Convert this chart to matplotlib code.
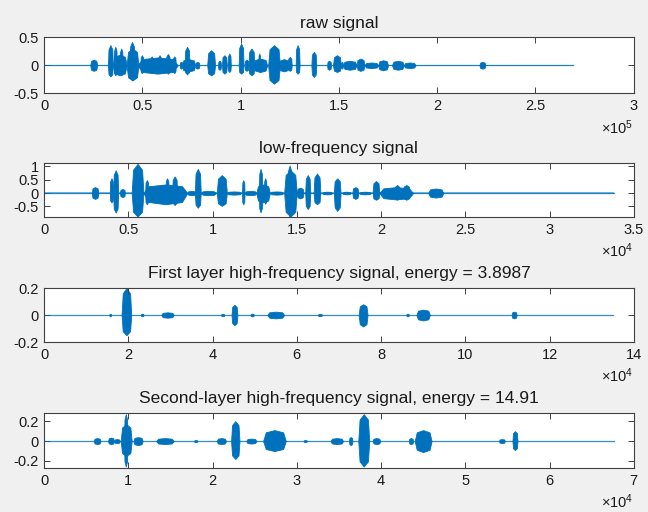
import matplotlib
matplotlib.use("Agg")
import matplotlib.pyplot as plt
from matplotlib.ticker import FormatStrFormatter

plt.rcParams['font.family'] = ['Liberation Sans', 'DejaVu Sans']
plt.rcParams['mathtext.default'] = 'regular'

# bursts: (start, end, upper amplitude, lower amplitude)
# x in units of the axis multiplier (x10^5 for raw, x10^4 for the others)
raw_bursts = [
    (0.235, 0.27, 0.10, 0.10), (0.325, 0.35, 0.36, 0.20), (0.35, 0.42, 0.19, 0.18),
    (0.355, 0.37, 0.33, 0.18), (0.385, 0.40, 0.30, 0.18), (0.42, 0.48, 0.30, 0.27),
    (0.435, 0.46, 0.42, 0.27), (0.475, 0.68, 0.14, 0.15), (0.49, 0.505, 0.18, 0.14),
    (0.54, 0.555, 0.16, 0.14), (0.58, 0.595, 0.18, 0.14), (0.62, 0.64, 0.20, 0.15),
    (0.655, 0.67, 0.16, 0.14), (0.69, 0.705, 0.06, 0.06), (0.70, 0.77, 0.11, 0.11),
    (0.715, 0.74, 0.33, 0.16), (0.77, 0.79, 0.06, 0.06), (0.83, 0.87, 0.27, 0.18),
    (0.885, 0.90, 0.08, 0.08), (0.905, 0.93, 0.18, 0.15), (0.935, 0.95, 0.21, 0.12),
    (0.99, 1.015, 0.39, 0.15), (1.02, 1.04, 0.10, 0.10), (1.04, 1.07, 0.30, 0.18),
    (1.065, 1.135, 0.12, 0.12), (1.09, 1.10, 0.21, 0.12), (1.14, 1.20, 0.36, 0.33),
    (1.195, 1.245, 0.11, 0.11), (1.24, 1.26, 0.15, 0.10), (1.28, 1.30, 0.36, 0.15),
    (1.36, 1.385, 0.24, 0.21), (1.44, 1.46, 0.08, 0.08), (1.47, 1.51, 0.18, 0.12),
    (1.51, 1.52, 0.06, 0.06), (1.52, 1.59, 0.08, 0.08), (1.59, 1.63, 0.12, 0.10),
    (1.63, 1.70, 0.05, 0.05), (1.70, 1.75, 0.09, 0.09), (1.77, 1.83, 0.08, 0.08),
    (1.83, 1.89, 0.05, 0.05), (2.215, 2.245, 0.06, 0.06),
]
raw_end = 2.69

low_bursts = [
    (0.283, 0.322, 0.22, 0.22), (0.39, 0.41, 0.55, 0.35), (0.41, 0.44, 0.85, 0.73),
    (0.45, 0.48, 0.15, 0.15), (0.52, 0.59, 1.09, 0.88), (0.59, 0.85, 0.32, 0.42),
    (0.60, 0.62, 0.48, 0.42), (0.72, 0.74, 0.55, 0.42), (0.76, 0.79, 0.62, 0.45),
    (0.85, 0.90, 0.08, 0.08), (0.895, 0.93, 0.90, 0.55), (0.93, 1.02, 0.08, 0.08),
    (1.025, 1.085, 0.67, 0.48), (1.085, 1.17, 0.06, 0.06), (1.175, 1.19, 0.48, 0.42),
    (1.19, 1.26, 0.08, 0.08), (1.26, 1.34, 0.32, 0.35), (1.275, 1.295, 0.90, 0.72),
    (1.305, 1.32, 0.55, 0.40), (1.34, 1.42, 0.06, 0.06), (1.425, 1.50, 0.85, 0.88),
    (1.445, 1.47, 1.03, 0.90), (1.50, 1.54, 0.20, 0.20), (1.55, 1.58, 0.67, 0.60),
    (1.60, 1.64, 0.73, 0.42), (1.65, 1.71, 0.05, 0.05), (1.72, 1.76, 0.55, 0.67),
    (1.77, 1.82, 0.05, 0.05), (1.83, 1.865, 0.22, 0.22), (1.87, 1.94, 0.05, 0.05),
    (1.95, 1.99, 0.45, 0.25), (1.99, 2.19, 0.22, 0.24), (2.08, 2.11, 0.30, 0.25),
    (2.13, 2.17, 0.30, 0.25), (2.28, 2.37, 0.17, 0.17),
]
low_end = 3.38

hi1_bursts = [
    (1.55, 1.59, 0.01, 0.01), (1.84, 2.07, 0.20, 0.15), (2.30, 2.36, 0.01, 0.01),
    (2.78, 3.08, 0.02, 0.02), (4.20, 4.28, 0.008, 0.008), (4.45, 4.59, 0.075, 0.075),
    (4.90, 4.98, 0.01, 0.01), (5.30, 5.70, 0.025, 0.025), (6.50, 6.60, 0.008, 0.008),
    (7.47, 7.68, 0.08, 0.085), (8.60, 8.66, 0.01, 0.01), (8.84, 9.16, 0.04, 0.04),
    (11.10, 11.22, 0.025, 0.025),
]
hi1_end = 13.5

hi2_bursts = [
    (0.59, 0.67, 0.03, 0.03), (0.76, 0.83, 0.035, 0.03), (0.83, 0.90, 0.02, 0.02),
    (0.91, 1.04, 0.17, 0.15), (0.95, 0.99, 0.27, 0.255), (1.06, 1.17, 0.04, 0.04),
    (1.33, 1.54, 0.03, 0.03), (1.78, 1.82, 0.01, 0.01), (2.05, 2.16, 0.03, 0.03),
    (2.22, 2.32, 0.20, 0.18), (2.40, 2.52, 0.025, 0.025), (2.60, 2.87, 0.11, 0.10),
    (3.08, 3.12, 0.01, 0.01), (3.40, 3.55, 0.03, 0.03), (3.62, 3.66, 0.04, 0.04),
    (3.73, 3.86, 0.27, 0.255), (3.90, 3.99, 0.03, 0.03), (4.33, 4.38, 0.03, 0.03),
    (4.40, 4.60, 0.11, 0.11), (5.40, 5.47, 0.02, 0.02), (5.56, 5.62, 0.10, 0.09),
]
hi2_end = 6.76

titles = [
    "raw signal",
    "low-frequency signal",
    "First layer high-frequency signal, energy = 3.8987",
    "Second-layer high-frequency signal, energy = 14.91",
]
x_limits = [3.0, 3.5, 14.0, 7.0]
x_steps = [0.5, 0.5, 2.0, 1.0]
y_limits = [(-0.5, 0.5), (-0.9, 1.12), (-0.2, 0.2), (-0.27, 0.28)]
y_ticks = [[-0.5, 0, 0.5], [-0.5, 0, 0.5, 1], [-0.2, 0, 0.2], [-0.2, 0, 0.2]]
multipliers = [5, 4, 4, 4]

LINE = '#0072BD'
AX_COLOR = '#404040'


def draw_signal(ax, bursts, end, base):
    ax.fill_between([0, end], [-base, -base], [base, base], color=LINE, alpha=0.5, lw=0)
    ax.plot([0, end], [0, 0], color=LINE, lw=0.9, alpha=0.8)
    for s, e, up, dn in bursts:
        w = e - s
        xs = [s, s + 0.12 * w, (s + e) / 2, e - 0.12 * w, e]
        top = [0, 0.8 * up, up, 0.8 * up, 0]
        bot = [0, -0.8 * dn, -dn, -0.8 * dn, 0]
        ax.fill_between(xs, bot, top, color=LINE, lw=0.6, edgecolor=LINE)


fig = plt.figure(figsize=(6.48, 5.12), dpi=100, facecolor='#f0f0f0')
positions = [
    [0.068, 0.818, 0.910, 0.109],
    [0.068, 0.576, 0.910, 0.1055],
    [0.068, 0.332, 0.910, 0.1055],
    [0.068, 0.086, 0.910, 0.107],
]
signals = [
    (raw_bursts, raw_end, 0.012),
    (low_bursts, low_end, 0.02),
    (hi1_bursts, hi1_end, 0.003),
    (hi2_bursts, hi2_end, 0.004),
]

for i, pos in enumerate(positions):
    ax = fig.add_axes(pos)
    ax.set_facecolor('white')
    bursts, end, base = signals[i]
    draw_signal(ax, bursts, end, base)
    ax.set_xlim(0, x_limits[i])
    ax.set_ylim(*y_limits[i])
    n = int(round(x_limits[i] / x_steps[i]))
    ax.set_xticks([k * x_steps[i] for k in range(n + 1)])
    ax.set_yticks(y_ticks[i])
    ax.xaxis.set_major_formatter(FormatStrFormatter('%g'))
    ax.yaxis.set_major_formatter(FormatStrFormatter('%g'))
    ax.tick_params(direction='in', length=4, width=0.7, color=AX_COLOR,
                   labelsize=10.5, labelcolor='#1a1a1a', top=True, right=True, pad=4)
    for sp in ax.spines.values():
        sp.set_color(AX_COLOR)
        sp.set_linewidth(0.8)
    ax.set_title(titles[i], fontsize=12.5, color='#1a1a1a', pad=7)
    ax.text(1.0, -0.62, r'$\times10^{%d}$' % multipliers[i], transform=ax.transAxes,
            ha='right', va='center', fontsize=10.5, color='#1a1a1a')

fig.savefig('out.png', dpi=100, facecolor=fig.get_facecolor())
